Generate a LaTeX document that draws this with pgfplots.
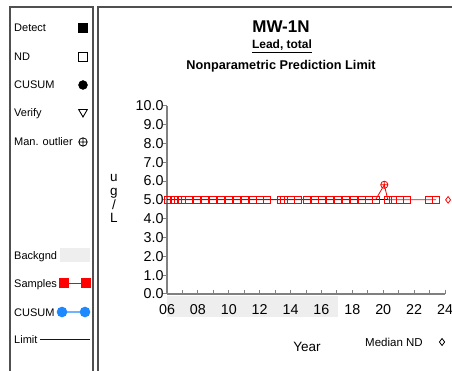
\documentclass[border=0pt]{standalone}
\usepackage{pgfplots}
\pgfplotsset{compat=1.18}
\usepackage{fontspec}
\setmainfont{Liberation Sans}
\definecolor{axgray}{HTML}{808080}
\definecolor{framec}{HTML}{505050}
\definecolor{bg}{HTML}{EEEEEE}
\definecolor{cusumblue}{HTML}{1E88FF}
\definecolor{cusumline}{HTML}{6FB4FF}
\definecolor{limitblue}{HTML}{0000CC}
\newcommand\fs[1]{\fontsize{#1}{#1}\selectfont}

\pgfplotstableread{
x y
2006.08 5.0
2006.45 5.0
2006.68 5.0
2006.98 5.0
2007.40 5.0
2007.95 5.0
2008.45 5.0
2008.98 5.0
2009.50 5.0
2010.00 5.0
2010.55 5.0
2011.05 5.0
2011.55 5.0
2012.02 5.0
2012.50 5.0
2013.40 5.0
2013.58 5.0
2014.02 5.0
2014.50 5.0
2015.05 5.0
2015.55 5.0
2016.06 5.0
2016.56 5.0
2017.08 5.0
2017.60 5.0
2018.07 5.0
2018.60 5.0
2019.05 5.0
2019.50 5.0
2020.07 5.8
2020.30 5.0
2020.60 5.0
2021.08 5.0
2021.52 5.0
2022.97 5.0
2023.42 5.0
}\samples

\pgfplotstableread{
x y
2006.08 5.0
2006.45 5.0
2006.68 5.0
2006.98 5.0
2007.40 5.0
2007.95 5.0
2008.45 5.0
2008.98 5.0
2009.50 5.0
2010.00 5.0
2010.55 5.0
2011.05 5.0
2011.55 5.0
2012.02 5.0
2012.50 5.0
2013.40 5.0
2013.58 5.0
2014.02 5.0
2014.50 5.0
2015.05 5.0
2015.55 5.0
2016.06 5.0
2016.56 5.0
2017.08 5.0
2017.60 5.0
2018.07 5.0
2018.60 5.0
2019.05 5.0
2019.50 5.0
2020.30 5.0
2020.60 5.0
2021.08 5.0
2021.52 5.0
2022.97 5.0
2023.42 5.0
}\nd

\begin{document}
\begin{tikzpicture}
\path[use as bounding box] (0pt,0pt) rectangle (452pt,371pt);
% ---- overlay axis in pixel coordinates (frames, side legend, titles)
\begin{axis}[at={(0pt,0pt)}, anchor=south west, scale only axis,
  width=452pt, height=371pt, xmin=0, xmax=452, ymin=0, ymax=371,
  y dir=reverse, hide axis, clip=false]
  \draw[framec, line width=1.5pt] (axis cs:10,385) -- (axis cs:10,7) -- (axis cs:93,7) -- (axis cs:93,385);
  \draw[framec, line width=1.5pt] (axis cs:98,385) -- (axis cs:98,7) -- (axis cs:470,7);
  % background period band (2006 - 2017.1) under the x tick labels
  \addplot[fill=bg, draw=none] coordinates {(167,296) (338,296) (338,317) (167,317)} -- cycle;
  % side legend texts
  \node[anchor=base west, font=\fs{11}, inner sep=0pt] at (axis cs:14,32) {Detect};
  \node[anchor=base west, font=\fs{11}, inner sep=0pt] at (axis cs:14,61) {ND};
  \node[anchor=base west, font=\fs{11}, inner sep=0pt] at (axis cs:14,89) {CUSUM};
  \node[anchor=base west, font=\fs{11}, inner sep=0pt] at (axis cs:14,117) {Verify};
  \node[anchor=base west, font=\fs{11}, inner sep=0pt] at (axis cs:14,146) {Man. outlier};
  \node[anchor=base west, font=\fs{11}, inner sep=0pt] at (axis cs:14,259) {Backgnd};
  \node[anchor=base west, font=\fs{11}, inner sep=0pt] at (axis cs:14,287) {Samples};
  \node[anchor=base west, font=\fs{11}, inner sep=0pt] at (axis cs:14,316) {CUSUM};
  \node[anchor=base west, font=\fs{11}, inner sep=0pt] at (axis cs:14,343) {Limit};
  % side legend symbols
  \addplot[only marks, black, mark=square*, mark size=4.6] coordinates {(83,28)};
  \addplot[only marks, black, mark=square, mark size=4.2, mark options={line width=0.9pt}] coordinates {(83,57)};
  \addplot[only marks, black, mark=*, mark size=4.5] coordinates {(83,85)};
  \addplot[only marks, black, mark=triangle, mark size=5, mark options={rotate=180, line width=0.9pt}] coordinates {(83,112)};
  \addplot[only marks, black, mark=oplus, mark size=4.2, mark options={line width=0.8pt}] coordinates {(83,142)};
  \addplot[fill=bg, draw=none] coordinates {(60,248) (90,248) (90,262) (60,262)} -- cycle;
  \addplot[red, line width=0.9pt, mark=square*, mark size=4.5] coordinates {(64,283) (86,283)};
  \addplot[cusumline, line width=1.5pt, mark=*, mark size=4.5, mark options={cusumblue}] coordinates {(62,312) (85,312)};
  \addplot[limitblue, line width=0.8pt] coordinates {(40,339) (90,339)};
  % titles
  \node[anchor=base, font=\fs{17}\bfseries, inner sep=0pt] at (axis cs:281,33) {MW-1N};
  \node[anchor=base, font=\fs{12}\bfseries, inner sep=0pt] at (axis cs:282,49) {\underline{Lead, total}};
  \node[anchor=base, font=\fs{12.7}\bfseries, inner sep=0pt] at (axis cs:281,69.5) {Nonparametric Prediction Limit};
  % y label
  \node[anchor=base, font=\fs{13.5}, inner sep=0pt] at (axis cs:114,182) {u};
  \node[anchor=base, font=\fs{13.5}, inner sep=0pt] at (axis cs:114,196) {g};
  \node[anchor=base, font=\fs{13.5}, inner sep=0pt] at (axis cs:114,209.5) {/};
  \node[anchor=base, font=\fs{13.5}, inner sep=0pt] at (axis cs:114,223) {L};
  % x label and median note
  \node[anchor=base, font=\fs{13.5}, inner sep=0pt] at (axis cs:307,351) {Year};
  \node[anchor=base west, font=\fs{11.5}, inner sep=0pt] at (axis cs:365,346) {Median ND};
  \addplot[only marks, black, mark=diamond, mark size=3.5, mark options={line width=0.8pt}] coordinates {(442,342)};
\end{axis}
% ---- main axis
\begin{axis}[at={(167pt,77pt)}, anchor=south west, scale only axis,
  width=278pt, height=188.3pt,
  xmin=2006, xmax=2024, ymin=0, ymax=10,
  axis lines*=left,
  axis line style={axgray, line width=1.5pt},
  clip=false,
  xtick={2006,2008,...,2024},
  xticklabels={06,08,10,12,14,16,18,20,22,24},
  minor xtick={2007,2009,...,2023},
  ytick={0,1,...,10},
  tick style={axgray, line width=1pt},
  major tick length=4pt, minor tick length=4pt,
  tick align=inside,
  ytick style={xshift=-4pt},
  ticklabel style={font=\fs{14.3}},
  xticklabel style={yshift=-7pt},
  yticklabel style={/pgf/number format/.cd, fixed, fixed zerofill, precision=1, assume math mode=true},
  xticklabel style={/pgf/number format/assume math mode=true},
]
  \addplot[limitblue, line width=0.8pt] coordinates {(2006,5) (2020.3,5)};
  \addplot[red, line width=0.8pt] table[x=x,y=y] {\samples};
  \addplot[only marks, red, mark=square, mark size=3.5, mark options={line width=0.8pt}] table[x=x,y=y] {\nd};
  \addplot[only marks, red, mark=oplus, mark size=3.6, mark options={line width=0.8pt}] coordinates {(2020.07,5.8)};
  \addplot[only marks, red, mark=diamond, mark size=3.3, mark options={line width=0.8pt}] coordinates {(2024.2,5)};
\end{axis}
\end{tikzpicture}
\end{document}
